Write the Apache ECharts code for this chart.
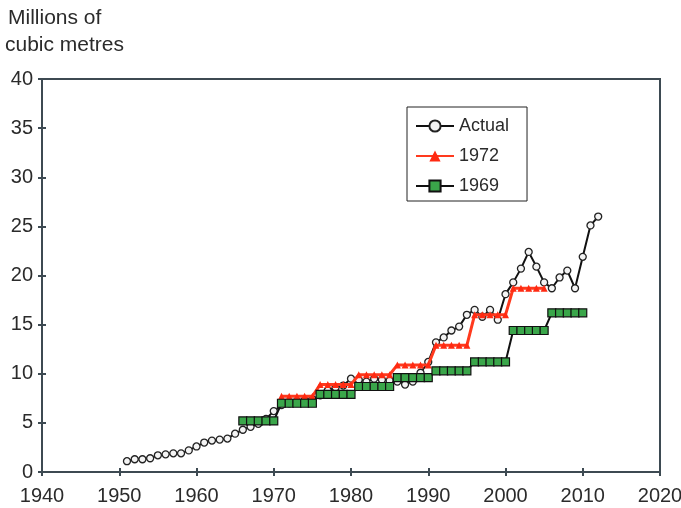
<!DOCTYPE html>
<html>
<head>
<meta charset="utf-8">
<script src="https://cdn.jsdelivr.net/npm/echarts@6/dist/echarts.min.js"></script>
<style>html,body{margin:0;padding:0;background:#fff}#c{width:681px;height:508px}</style>
</head>
<body>
<div id="c"></div>
<script>
var actualYears = [1951,1952,1953,1954,1955,1956,1957,1958,1959,1960,1961,1962,1963,1964,1965,1966,1967,1968,1969,1970,1971,1972,1973,1974,1975,1976,1977,1978,1979,1980,1981,1982,1983,1984,1985,1986,1987,1988,1989,1990,1991,1992,1993,1994,1995,1996,1997,1998,1999,2000,2001,2002,2003,2004,2005,2006,2007,2008,2009,2010,2011,2012];
var actualValues = [1.1,1.3,1.3,1.4,1.7,1.8,1.9,1.9,2.2,2.6,3.0,3.2,3.3,3.4,3.9,4.3,4.6,4.9,5.4,6.2,6.8,7.0,7.2,7.3,7.4,7.8,8.3,8.6,8.8,9.5,9.4,9.2,9.5,9.4,9.3,9.2,8.9,9.2,10.1,11.2,13.2,13.7,14.4,14.8,16.0,16.5,15.8,16.5,15.5,18.1,19.3,20.7,22.4,20.9,19.3,18.7,19.8,20.5,18.7,21.9,25.1,26.0];
var f1972Years = [1971,1972,1973,1974,1975,1976,1977,1978,1979,1980,1981,1982,1983,1984,1985,1986,1987,1988,1989,1990,1991,1992,1993,1994,1995,1996,1997,1998,1999,2000,2001,2002,2003,2004,2005];
var f1972Values = [7.7,7.7,7.7,7.7,7.7,8.9,8.9,8.9,8.9,8.9,9.9,9.9,9.9,9.9,9.9,10.9,10.9,10.9,10.9,10.9,12.9,12.9,12.9,12.9,12.9,16.0,16.0,16.0,16.0,16.0,18.7,18.7,18.7,18.7,18.7];
var f1969Years = [1966,1967,1968,1969,1970,1971,1972,1973,1974,1975,1976,1977,1978,1979,1980,1981,1982,1983,1984,1985,1986,1987,1988,1989,1990,1991,1992,1993,1994,1995,1996,1997,1998,1999,2000,2001,2002,2003,2004,2005,2006,2007,2008,2009,2010];
var f1969Values = [5.2,5.2,5.2,5.2,5.2,7.0,7.0,7.0,7.0,7.0,7.9,7.9,7.9,7.9,7.9,8.7,8.7,8.7,8.7,8.7,9.6,9.6,9.6,9.6,9.6,10.3,10.3,10.3,10.3,10.3,11.2,11.2,11.2,11.2,11.2,14.4,14.4,14.4,14.4,14.4,16.2,16.2,16.2,16.2,16.2];
var xTicks = [1940,1950,1960,1970,1980,1990,2000,2010,2020];
var yTicks = [0,5,10,15,20,25,30,35,40];
var titleLines = ['Millions of', 'cubic metres'];

function pairs(xs, ys){ return xs.map(function(x,i){ return [x, ys[i]]; }); }

var axisColor = '#3d4a52';
var textColor = '#2b2b2b';
var font = 'Liberation Sans, Arial, sans-serif';
var chart = echarts.init(document.getElementById('c'), null, {renderer:'canvas'});
chart.setOption({
  animation: false,
  backgroundColor: '#ffffff',
  graphic: [
    {type: 'text', left: 8, top: 8, style: {text: titleLines[0], font: '21px ' + font, fill: textColor}},
    {type: 'text', left: 5, top: 35, style: {text: titleLines[1], font: '21px ' + font, fill: textColor}}
  ],
  grid: {left: 42, right: 21, top: 79, bottom: 36, outerBoundsMode: 'none', containLabel: false, show: true, borderColor: axisColor, borderWidth: 2, backgroundColor: 'transparent'},
  legend: {
    orient: 'vertical', left: 407, top: 107,
    padding: [10, 18, 6, 8],
    itemWidth: 38, itemHeight: 14, itemGap: 12,
    borderColor: '#222', borderWidth: 1, borderRadius: 0,
    backgroundColor: '#fff',
    textStyle: {fontFamily: font, fontSize: 18, color: textColor, lineHeight: 14},
    data: ['Actual', '1972', '1969']
  },
  xAxis: [{
    type: 'value', min: xTicks[0], max: xTicks[xTicks.length-1], interval: 10,
    axisLine: {show: true, lineStyle: {color: axisColor, width: 2}},
    axisTick: {show: true, inside: false, length: 4, lineStyle: {color: axisColor, width: 2}},
    axisLabel: {fontFamily: font, fontSize: 20, color: textColor, margin: 14, formatter: function(v){return String(v);}},
    splitLine: {show: false}
  },{
    type: 'value', min: xTicks[0], max: xTicks[xTicks.length-1], interval: 10, position: 'bottom',
    axisLine: {show: false},
    axisTick: {show: true, inside: true, length: 4, lineStyle: {color: axisColor, width: 2}},
    axisLabel: {show: false}, splitLine: {show: false}
  }],
  yAxis: [{
    type: 'value', min: yTicks[0], max: yTicks[yTicks.length-1], interval: 5,
    axisLine: {show: true, lineStyle: {color: axisColor, width: 2}},
    axisTick: {show: true, inside: false, length: 4, lineStyle: {color: axisColor, width: 2}},
    axisLabel: {fontFamily: font, fontSize: 20, color: textColor, margin: 9},
    splitLine: {show: false}
  },{
    type: 'value', min: yTicks[0], max: yTicks[yTicks.length-1], interval: 5, position: 'left',
    axisLine: {show: false},
    axisTick: {show: true, inside: true, length: 4, lineStyle: {color: axisColor, width: 2}},
    axisLabel: {show: false}, splitLine: {show: false}
  }],
  series: [{
    name: 'Actual', type: 'line', data: pairs(actualYears, actualValues),
    symbol: 'circle', symbolSize: 7, showAllSymbol: true,
    lineStyle: {color: '#111', width: 2},
    itemStyle: {color: '#f4f4f4', borderColor: '#222', borderWidth: 1.3},
    z: 3
  },{
    name: '1972', type: 'line', data: pairs(f1972Years, f1972Values),
    symbol: 'triangle', symbolSize: 7, showAllSymbol: true,
    lineStyle: {color: '#ff3a1e', width: 3},
    itemStyle: {color: '#ff2a12', borderWidth: 0},
    z: 4
  },{
    name: '1969', type: 'line', data: pairs(f1969Years, f1969Values),
    symbol: 'rect', symbolSize: 8, showAllSymbol: true,
    lineStyle: {color: '#111', width: 2},
    itemStyle: {color: '#3aa64a', borderColor: '#111', borderWidth: 1.2},
    z: 5
  }]
});
</script>
</body>
</html>
